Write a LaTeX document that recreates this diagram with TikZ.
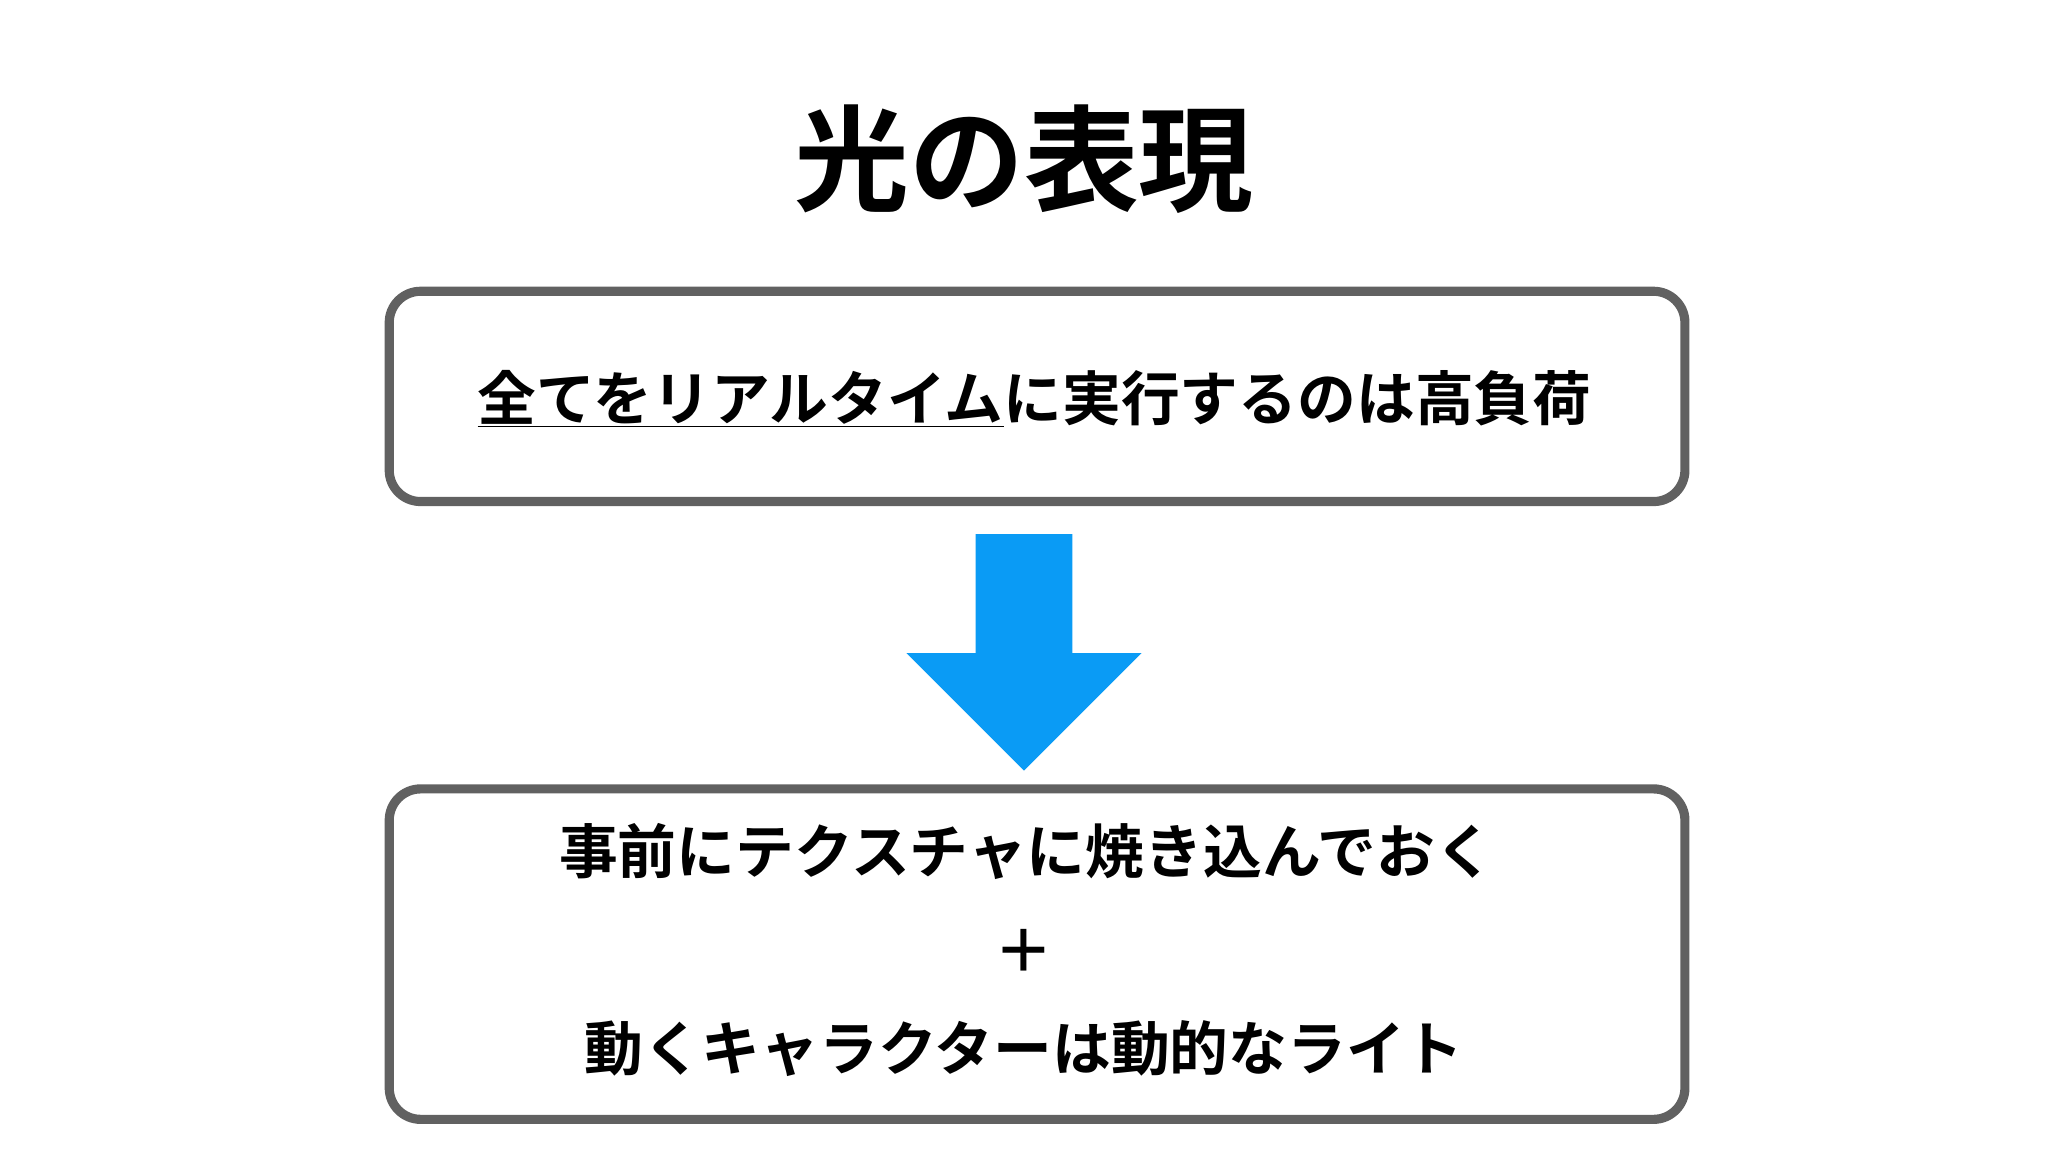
\documentclass[tikz,border=0pt]{standalone}
\usepackage{fontspec}
\newfontfamily\jp{Noto Sans CJK JP Bold}
\begin{document}
\begin{tikzpicture}[x=1pt,y=-1pt,
  box/.style={draw=black!62,line width=7pt,rounded corners=24pt,fill=white},
  txt/.style={font=\jp\fontsize{45}{54}\selectfont,inner sep=0pt}]
\useasboundingbox[fill=white] (0,0) rectangle (1568,882);
\node[font=\jp\fontsize{88}{100}\selectfont,inner sep=0pt] (title) at (784,122) {光の表現};
\draw[box] (298,223) rectangle (1290,384);
\node[txt] (t1) at (792,305) {\underline{全てをリアルタイム}に実行するのは高負荷};
\coordinate (b1) at (784,386);
\fill[fill={rgb,255:red,10;green,155;blue,245}] (747,409) -- (821,409) -- (821,500) -- (874,500) -- (784,590) -- (694,500) -- (747,500) -- cycle;
\draw[box] (298,604) rectangle (1290,857);
\node[txt] (l1) at (786,652) {事前にテクスチャに焼き込んでおく};
\node[txt] (l2) at (784,728) {＋};
\node[txt] (l3) at (784,803) {動くキャラクターは動的なライト};
\end{tikzpicture}
\end{document}
